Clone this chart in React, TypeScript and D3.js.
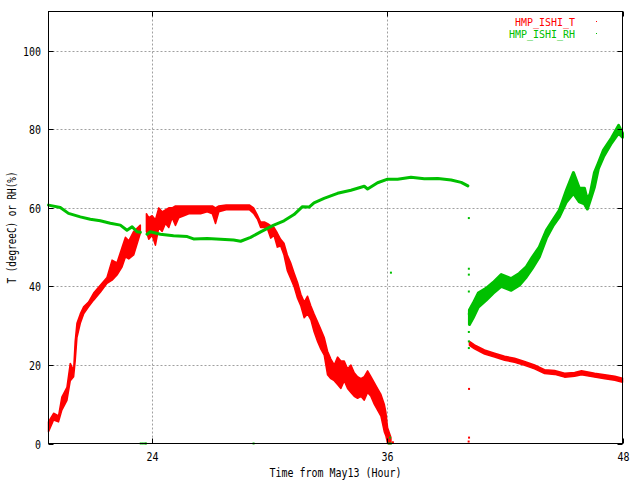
import * as d3 from "d3";

// time axis is hours from May13 00:00, null = gap in logging
const tempHours = [18.75, 19.01, 19.26, 19.43, 19.69, 19.86, 20.03, 20.11, 20.2, 20.37, 20.54, 20.79, 21.05, 21.39, 21.73, 21.99, 22.24, 22.5, 22.67, 22.84, 23.09, 23.43, null,
    23.74, 23.86, 24.03, 24.2, 24.37, 24.54, 24.71, 24.88, 25.05, 25.22, 25.39, 25.65, 25.9, 26.16, 26.5, 26.84, 27.1, 27.26, 27.43, 27.8,
    28.2, 28.6, 29.0, 29.2, 29.41, 29.56, 29.75, 29.92, 30.07, 30.24, 30.41, 30.58, 30.75, 30.92, 31.09, 31.26, 31.44, 31.61, 31.78, 31.95,
    32.12, 32.28, 32.46, 32.63, 32.8, 32.97, 33.14, 33.31, 33.48, 33.65, 33.82, 33.99, 34.16, 34.33, 34.5, 34.67, 34.84, 35.01, 35.18, 35.35,
    35.52, 35.69, 35.86, 35.94, 36.03, 36.2, null,
    40.2, 40.46, 40.97, 41.48, 41.99, 42.5, 43.01, 43.52, 44.03, 44.54, 45.05, 45.56, 45.91, 46.58, 47.1, 47.61, 48];
const tempLo = [3, 6, 5.5, 8.5, 11, 16, 17, 21, 27, 30.6, 33, 34.8, 36.5, 38.5, 40.8, 41.6, 42.9, 45, 47.5, 47, 48, 53.5, null,
    54, 52, 53, 50.5, 55, 54, 56, 55, 57.5, 55.5, 57.5, 58, 58.5, 58.5, 58.5, 59, 58.5, 56, 59, 59.5,
    59.5, 59.5, 59.5, 58.6, 57, 55, 55, 54.5, 52.3, 53, 50, 50.3, 48, 44, 42, 40, 37, 35, 32, 33,
    31.5, 28.5, 26, 24, 22.5, 17.5, 16.5, 16, 15, 14, 16, 14, 13, 12, 11.5, 12, 11, 13, 12, 10,
    8.5, 7, 3, 2, 0, 0, null,
    25, 24.1, 22.8, 22, 21.2, 20.7, 19.9, 19, 17.8, 17.6, 16.9, 17.1, 17.5, 16.9, 16.5, 16.1, 15.6];
const tempHi = [5.5, 7.7, 7, 11.8, 14.3, 20.4, 18.6, 26, 30.6, 33, 34.8, 36, 38.3, 40.3, 42.3, 46.7, 46, 50, 52.5, 51.6, 54, 55.6, null,
    58.5, 57.5, 58, 57, 60, 59, 59.5, 60, 60, 60.5, 60.5, 60.5, 60.5, 60.5, 60.5, 60.5, 60.5, 60, 60.5, 60.7,
    60.7, 60.7, 60.7, 60, 58, 56.4, 56.4, 56, 55.5, 55, 53.6, 52, 51, 48, 46, 43.5, 41, 38, 36, 37.5,
    35, 33, 31, 29, 27, 23.5, 21.5, 20, 22, 21, 21, 19, 20, 18, 17, 16.5, 17, 18.5, 17, 15.5,
    14, 12.5, 10, 8, 4, 1.5, null,
    26, 25.1, 23.8, 23, 22.2, 21.7, 20.9, 20, 18.8, 18.6, 17.9, 18.1, 18.5, 17.9, 17.5, 17.1, 16.6];

const rhHours = [18.75, 19.35, 19.77, 20.37, 20.88, 21.39, 21.9, 22.41, 22.75, 23.01, 23.26, 23.43, null,
    23.77, 23.94, 24.45, 25.12, 25.82, 26.14, 26.84, 27.52, 28.18, 28.54, 29.05, 29.56, 30.23, 30.75, 31.26, 31.69,
    32.03, 32.28, 32.79, 33.48, 34.16, 34.84, 35.01, 35.52, 36.03, 36.54, 37.22, 37.9, 38.59, 39.27, 39.78, 40.12, null,
    40.2, 40.39, 40.65, 41.05, 41.41, 41.82, 42.33, 42.74, 43.1, 43.4, 43.76, 44.12, 44.48, 44.78, 45.14, 45.5,
    45.8, 46.06, 46.21, 46.36, 46.57, 46.77, 47.03, 47.44, 47.8, 48];
const rhLo = [60.7, 60.1, 58.6, 57.7, 57.1, 56.7, 56.1, 55.6, 54.3, 55.2, 53.9, 53.8, null,
    53.3, 53.9, 53.3, 52.9, 52.7, 52.1, 52.2, 52.0, 51.8, 51.5, 52.5, 53.9, 55.6, 56.7, 58.3, 60.3,
    60.2, 61.3, 62.4, 63.7, 64.5, 65.5, 64.8, 66.4, 67.3, 67.3, 67.8, 67.4, 67.5, 67.1, 66.5, 65.6, null,
    30.3, 32, 34.7, 36.5, 38.3, 40, 39, 40.3, 42.4, 44.6, 47.5, 52.3, 55.6, 57.7, 61.5, 63.7,
    61.5, 61, 59.7, 62, 65.3, 70, 73, 76.5, 79, 78];
const rhHi = [60.7, 60.1, 58.6, 57.7, 57.1, 56.7, 56.1, 55.6, 54.3, 55.2, 53.9, 53.8, null,
    53.3, 53.9, 53.3, 52.9, 52.7, 52.1, 52.2, 52.0, 51.8, 51.5, 52.5, 53.9, 55.6, 56.7, 58.3, 60.3,
    60.2, 61.3, 62.4, 63.7, 64.5, 65.5, 64.8, 66.4, 67.3, 67.3, 67.8, 67.4, 67.5, 67.1, 66.5, 65.6, null,
    34, 35.7, 38.3, 39.5, 41, 43, 42, 43.3, 45, 47.4, 50, 54.3, 57.1, 59.4, 64.5, 69,
    65, 65, 62, 63.7, 69, 71.4, 74.7, 77.8, 81, 79];

// stray single readings
const tempStrayHours = [40.18, 40.18, 40.16, 36.3];
const tempStrayVals = [13.9, 1.5, 0.5, 0.3];
const rhStrayHours = [23.45, 23.55, 23.65, 23.72, 29.2, 36.1, 36.2, 36.15, 36.2, 40.17, 40.17, 40.17, 40.17, 40.17, 40.17, 40.17, 40.17];
const rhStrayVals = [0, 0, 0, 0, 0, 0, 0, 1.5, 43.5, 57.4, 43, 44.5, 38.7, 33, 28.4, 26, 24.3];

const xTicks = [24, 36, 48];
const yTicks = [0, 20, 40, 60, 80, 100];
const gridX = [24, 36];
const gridY = [20, 40, 60, 80, 100];

const RED = "#ff0000";
const GREEN = "#00c000";
const FONT = "DejaVu Sans Mono";

type Row = { h: number | null, lo: number, hi: number };

function rows(hours: (number | null)[], lo: (number | null)[], hi: (number | null)[]): Row[] {
    return hours.map((h, i) => ({ h, lo: lo[i] ?? 0, hi: hi[i] ?? 0 }));
}

function Txt({ x, y, text, anchor = "start", fill = "#000", len, size = 12 }: { x: number, y: number, text: string, anchor?: string, fill?: string, len?: number, size?: number }) {
    return (
        <text x={x} y={y} textAnchor={anchor} fill={fill} fontFamily={FONT} fontSize={size}
            textLength={len ?? text.length * 6} lengthAdjust="spacingAndGlyphs">{text}</text>
    );
}

export default function App() {
    const left = 48.5, right = 622.5, top = 11.5, bottom = 443.5;
    const x = d3.scaleLinear().domain([18.75, 48]).range([left, right]);
    const y = d3.scaleLinear().domain([0, 110]).range([bottom, top]);

    const band = d3.area<Row>()
        .defined(d => d.h != null)
        .x(d => x(d.h as number))
        .y0(d => y(d.lo))
        .y1(d => y(d.hi));

    const tempPath = band(rows(tempHours, tempLo, tempHi)) ?? "";
    const rhPath = band(rows(rhHours, rhLo, rhHi)) ?? "";

    return (
        <div style={{ position: "absolute", left: 0, top: 0 }}>
            <svg width={640} height={480} style={{ display: "block", background: "#fff" }}>
                {/* grid */}
                {gridY.map(v => (
                    <line key={"gy" + v} x1={left} x2={right} y1={Math.round(y(v)) + 0.5} y2={Math.round(y(v)) + 0.5}
                        stroke="#a0a0a0" strokeDasharray="2,2" />
                ))}
                {gridX.map(v => (
                    <line key={"gx" + v} y1={top} y2={bottom} x1={Math.round(x(v)) + 0.5} x2={Math.round(x(v)) + 0.5}
                        stroke="#a0a0a0" strokeDasharray="2,2" />
                ))}

                {/* data */}
                <path d={tempPath} fill={RED} stroke={RED} strokeWidth={1.5} strokeLinejoin="round" />
                <path d={rhPath} fill={GREEN} stroke={GREEN} strokeWidth={3} strokeLinejoin="round" />
                {tempStrayHours.map((h, i) => (
                    <rect key={"ts" + i} x={x(h) - 1} y={y(tempStrayVals[i]) - 1} width={2} height={2} fill={RED} />
                ))}
                {rhStrayHours.map((h, i) => (
                    <rect key={"rs" + i} x={x(h) - 1} y={y(rhStrayVals[i]) - 1} width={2} height={2} fill={GREEN} />
                ))}

                {/* border */}
                <rect x={left} y={top} width={right - left} height={bottom - top} fill="none" stroke="#000" />

                {/* ticks */}
                {yTicks.map(v => {
                    const yy = Math.round(y(v)) + 0.5;
                    return (
                        <g key={"yt" + v}>
                            <line x1={left} x2={left + 5} y1={yy} y2={yy} stroke="#000" />
                            <line x1={right - 5} x2={right} y1={yy} y2={yy} stroke="#000" />
                            <Txt x={41} y={yy + 4.5} text={String(v)} anchor="end" />
                        </g>
                    );
                })}
                {xTicks.map(v => {
                    const xx = Math.round(x(v)) + 0.5;
                    return (
                        <g key={"xt" + v}>
                            <line x1={xx} x2={xx} y1={bottom} y2={bottom - 5} stroke="#000" />
                            <line x1={xx} x2={xx} y1={top} y2={top + 5} stroke="#000" />
                            <Txt x={xx} y={461} text={String(v)} anchor="middle" />
                        </g>
                    );
                })}

                {/* titles */}
                <Txt x={(left + right) / 2} y={477} text="Time from May13 (Hour)" anchor="middle" />
                <g transform={`translate(16, ${(top + bottom) / 2}) rotate(-90)`}>
                    <Txt x={0} y={0} text="T (degreeC) or RH(%)" anchor="middle" len={112} />
                </g>

                {/* legend */}
                <Txt x={575} y={25.5} text="HMP_ISHI_T" anchor="end" fill={RED} size={10.5} />
                <rect x={596} y={21} width={1} height={1} fill={RED} />
                <Txt x={575} y={37.5} text="HMP_ISHI_RH" anchor="end" fill={GREEN} size={10.5} />
                <rect x={596} y={33} width={1} height={1} fill={GREEN} />
            </svg>
        </div>
    );
}
